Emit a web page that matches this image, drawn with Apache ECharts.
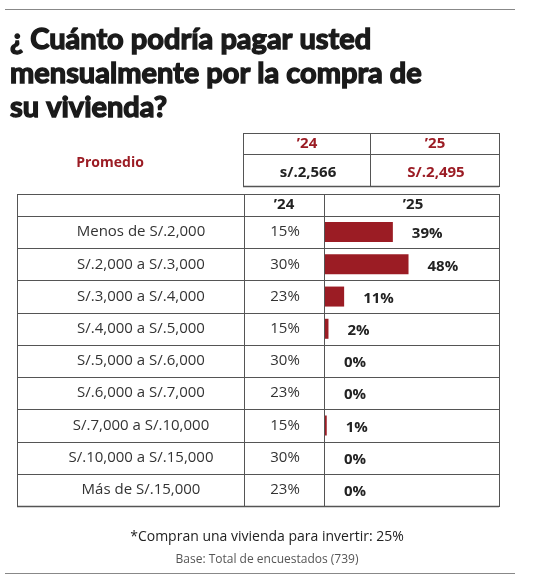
<!DOCTYPE html>
<html>
<head>
<meta charset="utf-8">
<script src="https://cdn.jsdelivr.net/npm/echarts@6/dist/echarts.min.js"></script>
<style>
html,body{margin:0;padding:0;background:#fff;}
#c{width:534px;height:582px;}
</style>
</head>
<body>
<div id="c"></div>
<script>
const titleText = '¿ Cuánto podría pagar usted\nmensualmente por la compra de\nsu vivienda?';
const categories = ['Menos de S/.2,000','S/.2,000 a S/.3,000','S/.3,000 a S/.4,000','S/.4,000 a S/.5,000','S/.5,000 a S/.6,000','S/.6,000 a S/.7,000','S/.7,000 a S/.10,000','S/.10,000 a S/.15,000','Más de S/.15,000'];
const pct24 = [15,30,23,15,30,23,15,30,23];
const pct25 = [39,48,11,2,0,0,1,0,0];
const years = ['’24','’25'];
const promedioLabel = 'Promedio';
const promedio = ['s/.2,566','S/.2,495'];
const note = '*Compran una vivienda para invertir: 25%';
const base = 'Base: Total de encuestados (739)';

const RED = '#9b1c24';
const LINE = '#555';
const BODY_FONT = '"Open Sans", "Noto Sans", sans-serif';

// layout
const L = 17, R = 499, C1 = 244, C2 = 324, HEAD_TOP = 194, GRID_TOP = 216, GRID_BOTTOM = 506;
const LABEL_CENTER = 141;
const rowH = (GRID_BOTTOM - GRID_TOP) / categories.length;

const chart = echarts.init(document.getElementById('c'));

const graphics = [];
function hline(x1, x2, y, w, c) {
  graphics.push({type:'line', shape:{x1:x1, y1:y, x2:x2, y2:y}, style:{stroke:c||LINE, lineWidth:w||1}, silent:true});
}
function vline(x, y1, y2, w, c) {
  graphics.push({type:'line', shape:{x1:x, y1:y1, x2:x, y2:y2}, style:{stroke:c||LINE, lineWidth:w||1}, silent:true});
}
// page rules
hline(5, 515, 9.5, 1.2, '#888');
hline(5, 515, 573.5, 1.2, '#888');
// top summary table
hline(243, 499, 133.5, 1);
hline(243, 499, 154.5, 1);
hline(243, 499, 186.5, 1.5);
vline(243.5, 133, 187, 1);
vline(370.5, 133, 187, 1);
vline(499.5, 133, 187, 1);
// main table
hline(L, R, HEAD_TOP + 0.5, 1.2);
for (let i = 0; i <= categories.length; i++) {
  hline(L, R, Math.round(GRID_TOP + i * rowH) + 0.5, i === categories.length ? 1.5 : 1);
}
vline(L + 0.5, HEAD_TOP, GRID_BOTTOM + 1, 1);
vline(C1 + 0.5, HEAD_TOP, GRID_BOTTOM + 1, 1);
vline(C2 + 0.5, HEAD_TOP, GRID_BOTTOM + 1, 1);
vline(R + 0.5, HEAD_TOP, GRID_BOTTOM + 1, 1);

// texts in summary table & header
function txt(x, y, s, opt) {
  graphics.push({type:'text', x:x, y:y, silent:true, style:Object.assign({text:s, align:'center', verticalAlign:'middle', font:'bold 15px ' + BODY_FONT, fill:'#222'}, opt||{})});
}
txt(110, 163, promedioLabel, {fill:RED, font:'bold 14px ' + BODY_FONT});
txt(307, 144, years[0], {fill:RED});
txt(435, 144, years[1], {fill:RED});
txt(308, 173, promedio[0], {fill:'#222'});
txt(436, 173, promedio[1], {fill:RED});
txt(284, 205, years[0], {fill:'#222'});
txt(413, 205, years[1], {fill:'#222'});

const option = {
  animation: false,
  backgroundColor: '#fff',
  title: [
    {text: titleText, left: 5, top: 18, textStyle: {fontFamily: 'Lato, "Noto Sans", sans-serif', fontWeight: 'bold', fontSize: 29, lineHeight: 34, color: '#1a1a1a', textBorderColor: '#1a1a1a', textBorderWidth: 1.4}},
    {text: note, left: 'center', top: 525, textStyle: {fontFamily: BODY_FONT, fontWeight: 'normal', fontSize: 14, color: '#222'}},
    {text: base, left: 'center', top: 549, textStyle: {fontFamily: BODY_FONT, fontWeight: 'normal', fontSize: 12, color: '#555'}}
  ],
  grid: {left: C2 + 1, right: 534 - R, top: GRID_TOP, bottom: 582 - GRID_BOTTOM},
  xAxis: {type: 'value', min: 0, max: 100, show: false},
  yAxis: [
    {type: 'category', data: categories, inverse: true, position: 'left',
     axisLine: {show: false}, axisTick: {show: false}, splitLine: {show: false},
     axisLabel: {align: 'center', margin: C2 + 1 - LABEL_CENTER, fontFamily: BODY_FONT, fontSize: 15, color: '#333'}},
    {type: 'category', data: pct24.map(v => v + '%'), inverse: true, position: 'left',
     axisLine: {show: false}, axisTick: {show: false}, splitLine: {show: false},
     axisLabel: {align: 'center', margin: C2 + 1 - 285, fontFamily: BODY_FONT, fontSize: 15, color: '#333'}}
  ],
  series: [{
    type: 'bar', yAxisIndex: 0, data: pct25, barWidth: 20,
    itemStyle: {color: RED},
    label: {show: true, position: 'right', distance: 19, offset: [0, 2], formatter: p => p.value + '%',
            fontFamily: BODY_FONT, fontWeight: 'bold', fontSize: 15, color: '#222'}
  }],
  graphic: graphics
};
chart.setOption(option);
</script>
</body>
</html>
